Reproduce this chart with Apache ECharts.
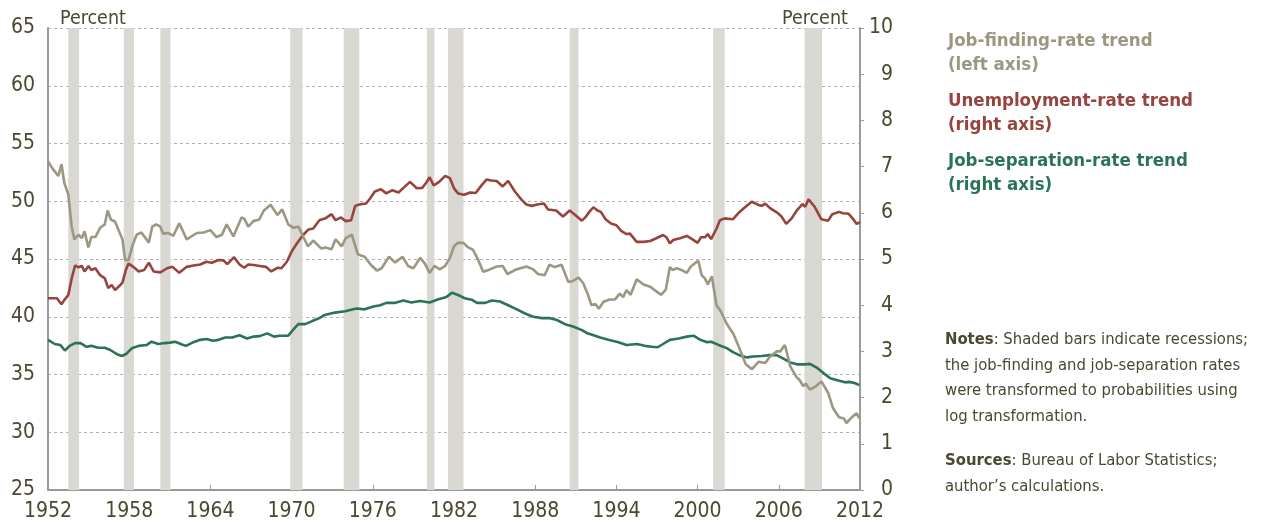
<!DOCTYPE html>
<html>
<head>
<meta charset="utf-8">
<script src="https://cdn.jsdelivr.net/npm/echarts@6/dist/echarts.min.js"></script>
<style>
html,body{margin:0;padding:0;background:#fff;}
#chart{width:1261px;height:523px;}
</style>
</head>
<body>
<div id="chart"></div>
<script>
// ---------- DATA ----------
const xTicks = [1952, 1958, 1964, 1970, 1976, 1982, 1988, 1994, 2000, 2006, 2012];
const leftTicks = [25, 30, 35, 40, 45, 50, 55, 60, 65];
const rightTicks = [0, 1, 2, 3, 4, 5, 6, 7, 8, 9, 10];

const recessionStarts = [1953.5, 1957.6, 1960.3, 1969.9, 1973.85, 1980.0, 1981.55, 1990.55, 2001.15, 2007.9];
const recessionEnds   = [1954.3, 1958.35, 1961.05, 1970.8, 1975.0, 1980.55, 1982.7, 1991.2, 2002.0, 2009.2];

// Job-finding-rate trend (left axis)
const jfYears = [1952.0,1952.35,1952.76,1953.0,1953.2,1953.5,1953.75,1953.95,1954.25,1954.5,1954.7,1954.98,1955.2,1955.5,1955.85,1956.2,1956.4,1956.65,1956.95,1957.25,1957.5,1957.7,1957.95,1958.25,1958.55,1958.9,1959.15,1959.45,1959.7,1960.0,1960.3,1960.5,1960.9,1961.25,1961.7,1962.25,1963.0,1963.5,1964.0,1964.45,1964.85,1965.2,1965.7,1966.3,1966.5,1966.8,1967.2,1967.6,1967.95,1968.45,1968.95,1969.3,1969.75,1970.15,1970.5,1970.85,1971.2,1971.6,1972.2,1972.5,1972.95,1973.25,1973.7,1974.0,1974.45,1974.9,1975.4,1975.85,1976.3,1976.65,1977.2,1977.65,1978.2,1978.6,1979.0,1979.5,1979.85,1980.2,1980.55,1980.95,1981.35,1981.7,1982.0,1982.3,1982.7,1983.05,1983.4,1983.8,1984.15,1984.65,1985.15,1985.6,1985.95,1986.6,1987.35,1987.85,1988.2,1988.7,1989.05,1989.45,1989.95,1990.45,1990.8,1991.2,1991.55,1991.95,1992.15,1992.45,1992.7,1993.05,1993.5,1993.9,1994.25,1994.5,1994.75,1995.05,1995.5,1996.0,1996.5,1996.95,1997.3,1997.65,1997.95,1998.15,1998.45,1998.8,1999.2,1999.5,2000.05,2000.3,2000.55,2000.75,2001.05,2001.4,2001.7,2002.15,2002.65,2003.15,2003.55,2004.0,2004.5,2005.0,2005.35,2005.85,2006.1,2006.45,2006.85,2007.3,2007.55,2007.8,2008.0,2008.3,2008.75,2009.15,2009.65,2010.0,2010.45,2010.8,2011.0,2011.4,2011.75,2011.95];
const jfValues = [53.45,52.8,52.2,53.2,51.6,50.6,47.8,46.7,47.1,46.8,47.4,46.0,46.9,46.9,47.7,48.0,49.2,48.4,48.25,47.4,46.7,44.9,44.9,46.2,47.1,47.3,46.9,46.4,47.8,48.0,47.8,47.2,47.25,47.0,48.1,46.7,47.25,47.3,47.5,46.9,47.1,48.0,46.95,48.6,48.5,47.8,48.3,48.4,49.2,49.7,48.8,49.3,48.0,47.7,47.8,46.95,46.1,46.6,45.9,46.0,45.85,46.7,46.1,46.8,47.1,45.4,45.2,44.5,44.0,44.2,45.2,44.7,45.2,44.4,44.2,45.1,44.6,43.8,44.4,44.1,44.4,45.1,46.1,46.4,46.4,46.0,45.8,44.9,43.9,44.1,44.35,44.4,43.7,44.1,44.35,44.1,43.7,43.6,44.5,44.3,44.5,43.0,43.1,43.4,42.9,41.75,41.0,41.1,40.7,41.3,41.5,41.5,42.0,41.7,42.3,41.9,43.25,42.8,42.6,42.2,41.9,42.35,44.3,44.05,44.2,44.05,43.8,44.35,44.85,43.6,43.3,42.8,43.5,41.0,40.5,39.4,38.5,37.1,35.9,35.45,36.1,36.0,36.55,37.0,37.0,37.55,35.7,34.8,34.5,34.0,34.2,33.7,34.0,34.4,33.4,32.1,31.3,31.2,30.8,31.3,31.65,31.2];

// Unemployment-rate trend (right axis)
const urYears = [1952.0,1952.65,1953.0,1953.2,1953.5,1953.75,1954.0,1954.25,1954.5,1954.7,1955.0,1955.2,1955.5,1955.85,1956.2,1956.45,1956.7,1956.95,1957.25,1957.5,1957.75,1957.95,1958.3,1958.7,1959.1,1959.45,1959.8,1960.3,1960.8,1961.2,1961.7,1962.25,1962.75,1963.25,1963.7,1964.1,1964.6,1964.95,1965.25,1965.75,1966.15,1966.5,1966.8,1967.2,1967.65,1968.1,1968.5,1968.95,1969.25,1969.65,1970.0,1970.4,1970.85,1971.25,1971.6,1972.05,1972.5,1972.95,1973.25,1973.65,1974.0,1974.4,1974.7,1975.0,1975.5,1975.8,1976.15,1976.6,1977.0,1977.45,1977.9,1978.3,1978.75,1979.25,1979.65,1979.95,1980.2,1980.5,1980.9,1981.35,1981.7,1982.0,1982.3,1982.75,1983.2,1983.6,1984.05,1984.4,1984.75,1985.15,1985.6,1986.0,1986.5,1987.0,1987.35,1987.75,1988.15,1988.65,1988.95,1989.55,1990.05,1990.55,1991.0,1991.45,1991.7,1992.0,1992.3,1992.6,1992.85,1993.2,1993.6,1994.0,1994.35,1994.75,1995.0,1995.5,1996.0,1996.5,1996.95,1997.45,1997.7,1997.95,1998.2,1998.7,1999.2,1999.6,2000.0,2000.25,2000.55,2000.75,2001.0,2001.4,2001.65,2002.0,2002.6,2003.0,2003.5,2004.0,2004.5,2004.75,2005.0,2005.35,2005.85,2006.2,2006.55,2006.95,2007.35,2007.75,2007.95,2008.2,2008.65,2009.15,2009.65,2009.95,2010.45,2010.75,2011.15,2011.45,2011.75,2012.0];
const urValues = [4.15,4.15,4.02,4.11,4.22,4.58,4.86,4.82,4.85,4.73,4.85,4.76,4.8,4.65,4.58,4.37,4.44,4.33,4.41,4.49,4.76,4.9,4.83,4.73,4.76,4.92,4.73,4.71,4.8,4.83,4.7,4.83,4.86,4.88,4.94,4.92,4.98,4.97,4.89,5.04,4.88,4.81,4.88,4.87,4.85,4.83,4.73,4.81,4.8,4.94,5.16,5.34,5.52,5.64,5.66,5.84,5.88,5.97,5.84,5.9,5.82,5.84,6.15,6.18,6.2,6.31,6.46,6.51,6.42,6.49,6.44,6.55,6.67,6.53,6.54,6.65,6.77,6.59,6.67,6.8,6.75,6.53,6.42,6.39,6.44,6.43,6.6,6.72,6.7,6.69,6.57,6.69,6.46,6.28,6.18,6.15,6.18,6.2,6.07,6.05,5.92,6.05,5.94,5.83,5.9,6.02,6.12,6.05,6.02,5.86,5.77,5.73,5.61,5.54,5.55,5.37,5.37,5.39,5.45,5.52,5.47,5.34,5.41,5.45,5.5,5.43,5.35,5.47,5.47,5.54,5.43,5.66,5.84,5.88,5.86,5.99,6.12,6.24,6.17,6.15,6.2,6.1,6.01,5.92,5.76,5.88,6.06,6.19,6.13,6.29,6.13,5.86,5.83,5.97,6.02,5.99,5.98,5.88,5.76,5.8];

// Job-separation-rate trend (right axis)
const jsYears = [1952.0,1952.5,1952.9,1953.25,1953.6,1954.0,1954.4,1954.85,1955.2,1955.7,1956.2,1956.6,1957.1,1957.45,1957.8,1958.2,1958.7,1959.3,1959.65,1960.15,1960.6,1961.0,1961.4,1961.9,1962.2,1962.75,1963.25,1963.7,1964.2,1964.6,1965.1,1965.6,1966.15,1966.7,1967.2,1967.65,1968.2,1968.7,1969.1,1969.75,1970.15,1970.5,1971.0,1971.4,1971.7,1972.05,1972.45,1973.2,1973.95,1974.4,1974.8,1975.4,1976.05,1976.55,1977.0,1977.6,1978.25,1978.85,1979.5,1980.2,1980.85,1981.45,1981.85,1982.3,1982.8,1983.3,1983.7,1984.3,1984.8,1985.4,1986.0,1986.65,1987.25,1987.85,1988.5,1989.1,1989.6,1990.2,1990.8,1991.45,1991.8,1992.2,1992.8,1993.4,1994.15,1994.75,1995.5,1996.1,1996.6,1997.05,1997.45,1997.95,1998.6,1999.2,1999.7,2000.2,2000.7,2001.0,2001.55,2002.15,2002.65,2003.15,2003.65,2004.1,2004.75,2005.35,2005.85,2006.3,2006.85,2007.35,2007.95,2008.3,2008.8,2009.3,2009.8,2010.4,2010.9,2011.2,2011.65,2011.95];
const jsValues = [3.25,3.16,3.14,3.02,3.12,3.18,3.18,3.1,3.12,3.08,3.08,3.03,2.94,2.9,2.95,3.07,3.12,3.14,3.21,3.16,3.18,3.19,3.21,3.15,3.12,3.2,3.25,3.27,3.23,3.25,3.3,3.3,3.35,3.28,3.32,3.33,3.39,3.32,3.34,3.34,3.48,3.59,3.59,3.64,3.68,3.72,3.79,3.84,3.87,3.9,3.93,3.91,3.97,4.0,4.05,4.05,4.1,4.06,4.09,4.06,4.13,4.18,4.27,4.22,4.15,4.12,4.05,4.05,4.1,4.08,4.0,3.91,3.82,3.75,3.72,3.72,3.68,3.59,3.54,3.46,3.4,3.36,3.3,3.25,3.2,3.14,3.16,3.12,3.1,3.09,3.16,3.25,3.28,3.32,3.34,3.25,3.2,3.21,3.14,3.07,2.98,2.91,2.87,2.89,2.9,2.92,2.92,2.85,2.76,2.72,2.72,2.73,2.65,2.53,2.42,2.37,2.33,2.34,2.31,2.27];

// ---------- CHART ----------
const FONT = "'Liberation Sans Narrow', 'DejaVu Sans Condensed', sans-serif";
const TXT = '#4b4830';
const C_JF = '#9b9781', C_UR = '#96443d', C_JS = '#2b7356';

const zip = (xs, ys) => xs.map((x, i) => [x, ys[i]]);
const recessionAreas = recessionStarts.map((s, i) => [{ xAxis: s }, { xAxis: recessionEnds[i] }]);

const chart = echarts.init(document.getElementById('chart'), null, { renderer: 'canvas' });

const option = {
  animation: false,
  backgroundColor: '#ffffff',
  textStyle: { fontFamily: FONT },
  grid: { left: 48, right: 401, top: 28, bottom: 33, containLabel: false },
  xAxis: {
    type: 'value', min: xTicks[0], max: xTicks[xTicks.length - 1], interval: 6,
    axisLine: { show: true, lineStyle: { color: '#9a9a9a', width: 2 } },
    axisTick: { show: true, inside: true, length: 5, lineStyle: { color: '#9a9a9a', width: 1 } },
    axisLabel: { color: TXT, fontSize: 21, fontFamily: FONT, margin: 11, formatter: v => String(v) },
    splitLine: { show: false }
  },
  yAxis: [
    {
      type: 'value', min: leftTicks[0], max: leftTicks[leftTicks.length - 1], interval: 5, position: 'left',
      axisLine: { show: true, lineStyle: { color: '#9a9a9a', width: 2 } },
      axisTick: { show: false },
      axisLabel: { color: TXT, fontSize: 21, fontFamily: FONT, margin: 13 },
      splitLine: { show: true, lineStyle: { color: '#b0b0b0', type: [3, 3], width: 1 } }
    },
    {
      type: 'value', min: rightTicks[0], max: rightTicks[rightTicks.length - 1], interval: 1, position: 'right',
      axisLine: { show: true, lineStyle: { color: '#9a9a9a', width: 2 } },
      axisTick: { show: true, inside: false, length: 4, lineStyle: { color: '#9a9a9a', width: 1 } },
      axisLabel: { color: TXT, fontSize: 21, fontFamily: FONT, margin: 33, align: 'right' },
      splitLine: { show: false }
    }
  ],
  series: [
    {
      name: 'recessions', type: 'line', data: [], z: 1, silent: true,
      markArea: { silent: true, itemStyle: { color: '#d9d8d2' }, data: recessionAreas }
    },
    {
      name: 'Unemployment-rate trend', type: 'line', yAxisIndex: 1, data: zip(urYears, urValues),
      showSymbol: false, z: 3, lineStyle: { color: C_UR, width: 2.6 }, itemStyle: { color: C_UR }
    },
    {
      name: 'Job-separation-rate trend', type: 'line', yAxisIndex: 1, data: zip(jsYears, jsValues),
      showSymbol: false, z: 3, lineStyle: { color: C_JS, width: 2.6 }, itemStyle: { color: C_JS }
    },
    {
      name: 'Job-finding-rate trend', type: 'line', yAxisIndex: 0, data: zip(jfYears, jfValues),
      showSymbol: false, z: 4, lineStyle: { color: C_JF, width: 2.6 }, itemStyle: { color: C_JF }
    }
  ],
  graphic: [
    { type: 'text', left: 60, top: 9, style: { text: 'Percent', fill: TXT, font: '19.5px ' + FONT } },
    { type: 'text', left: 782, top: 9, style: { text: 'Percent', fill: TXT, font: '19.5px ' + FONT } },

    { type: 'text', left: 948, top: 29, style: { text: 'Job-finding-rate trend\n(left axis)', fill: C_JF, font: 'bold 18.5px ' + FONT, lineHeight: 24 } },
    { type: 'text', left: 948, top: 89, style: { text: 'Unemployment-rate trend\n(right axis)', fill: C_UR, font: 'bold 18.5px ' + FONT, lineHeight: 24 } },
    { type: 'text', left: 948, top: 149, style: { text: 'Job-separation-rate trend\n(right axis)', fill: C_JS, font: 'bold 18.5px ' + FONT, lineHeight: 24 } },

    { type: 'text', left: 945, top: 327, style: {
        text: '{b|Notes}: Shaded bars indicate recessions;\nthe job-finding and job-separation rates\nwere transformed to probabilities using\nlog transformation.',
        fill: TXT, font: '16.5px ' + FONT, lineHeight: 25.5,
        rich: { b: { fontWeight: 'bold', fontSize: 16.5, fontFamily: FONT, fill: TXT } }
    } },
    { type: 'text', left: 945, top: 448, style: {
        text: '{b|Sources}: Bureau of Labor Statistics;\nauthor\u2019s calculations.',
        fill: TXT, font: '16.5px ' + FONT, lineHeight: 25.5,
        rich: { b: { fontWeight: 'bold', fontSize: 16.5, fontFamily: FONT, fill: TXT } }
    } }
  ]
};

chart.setOption(option);
</script>
</body>
</html>
